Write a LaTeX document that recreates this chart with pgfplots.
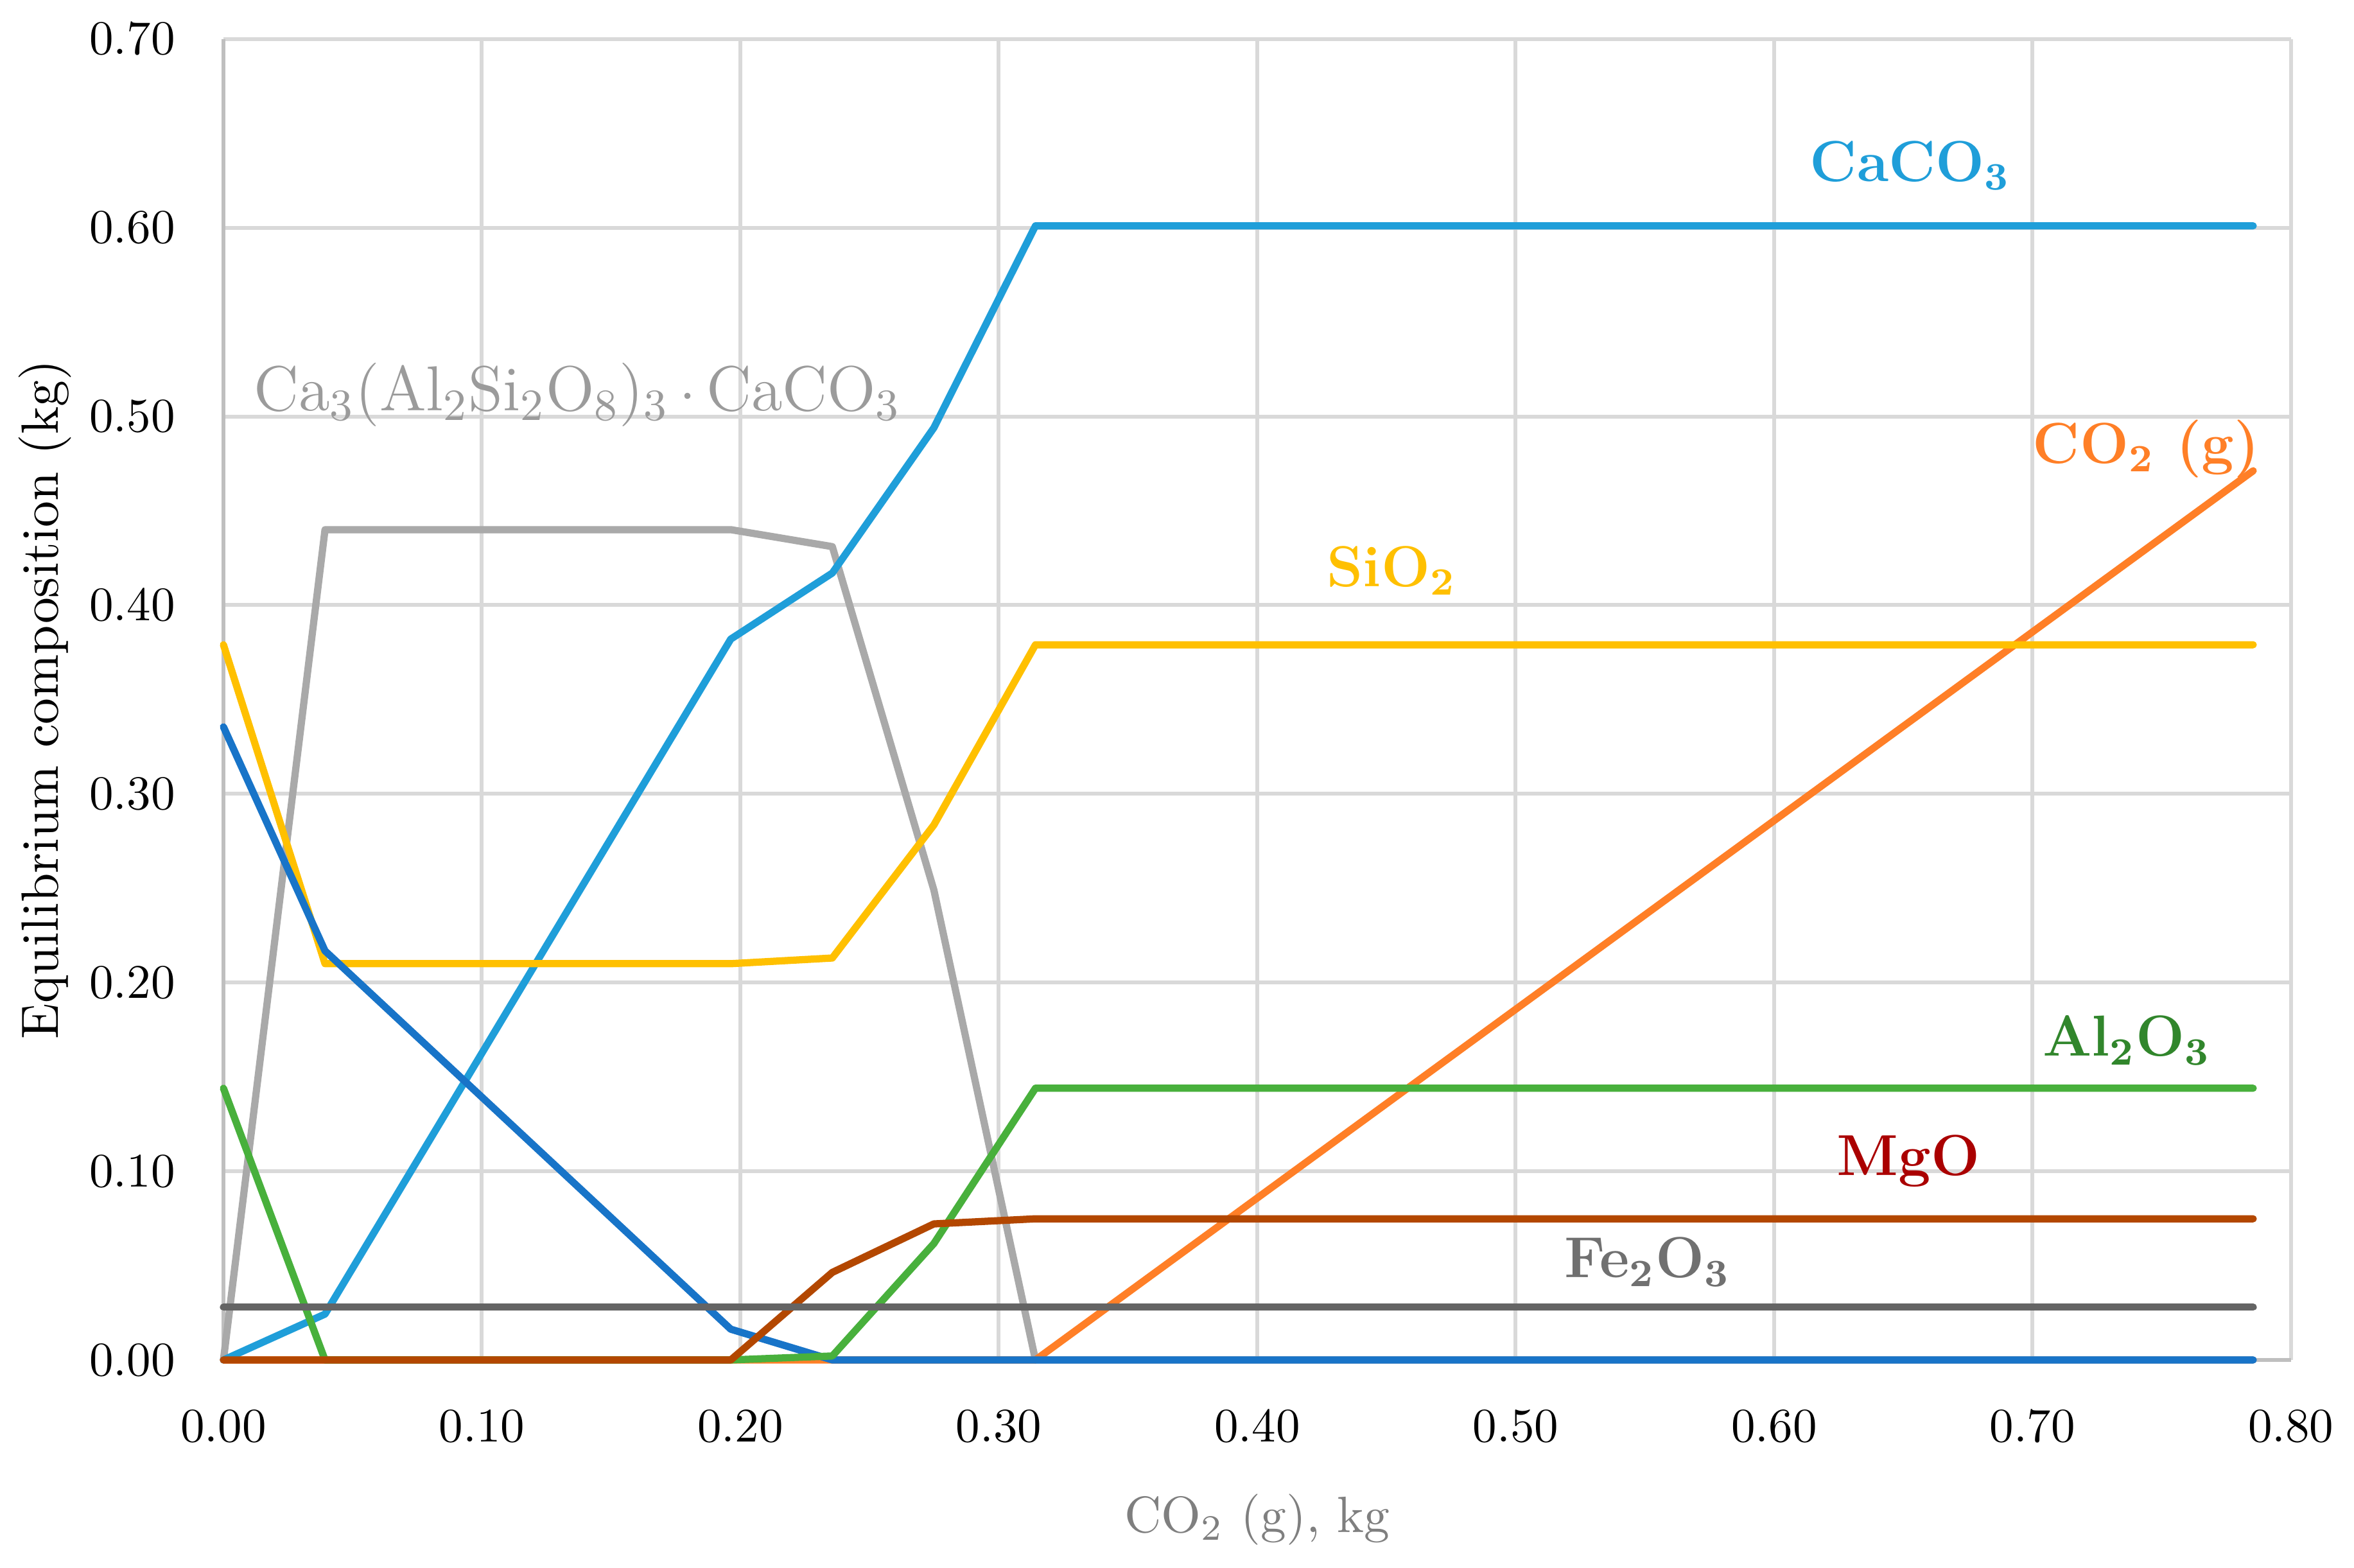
\documentclass[border=0pt]{standalone}
\usepackage{pgfplots}
\pgfplotsset{compat=1.18}
\definecolor{cCaCO}{RGB}{31,158,217}
\definecolor{cDark}{RGB}{24,116,200}
\definecolor{cSi}{RGB}{255,192,0}
\definecolor{cCO}{RGB}{255,127,39}
\definecolor{cAl}{RGB}{72,176,60}
\definecolor{cAlT}{RGB}{49,134,44}
\definecolor{cMg}{RGB}{179,71,0}
\definecolor{cMgT}{RGB}{170,0,0}
\definecolor{cFe}{RGB}{100,100,100}
\definecolor{cFeT}{RGB}{112,112,112}
\definecolor{cCa}{RGB}{169,169,169}
\definecolor{cCaT}{RGB}{155,155,155}
\definecolor{gridc}{RGB}{217,217,217}
\definecolor{axc}{RGB}{191,191,191}
\definecolor{labc}{RGB}{127,127,127}
\begin{document}
\begin{tikzpicture}
\useasboundingbox (-46.4pt,-43.2pt) rectangle (442.4pt,282.4pt);
\begin{axis}[
  at={(0,0)}, anchor=south west,
  width=429.3pt, height=274.3pt, scale only axis,
  xmin=0, xmax=0.8, ymin=0, ymax=0.7,
  xtick={0,0.1,0.2,0.3,0.4,0.5,0.6,0.7,0.8},
  ytick={0,0.1,0.2,0.3,0.4,0.5,0.6,0.7},
  major tick length=0pt,
  grid=major,
  major grid style={draw=gridc, line width=0.8pt},
  axis line style={draw=none},
  clip=false,
  tick label style={font=\fontsize{10}{12}\selectfont, black},
  xticklabel style={yshift=-7pt},
  yticklabel style={xshift=-6.5pt},
  xticklabel={\pgfmathprintnumber[fixed,fixed zerofill,precision=2]{\tick}},
  yticklabel={\pgfmathprintnumber[fixed,fixed zerofill,precision=2]{\tick}},
  xlabel={CO\textsubscript{2} (g), kg},
  ylabel={Equilibrium composition (kg)},
  every axis x label/.style={at={(axis description cs:0.5,0)}, yshift=-33.1pt, anchor=center, font=\fontsize{10.6}{12}\selectfont, text=labc},
  every axis y label/.style={at={(axis description cs:0,0.5)}, xshift=-37.1pt, rotate=90, anchor=center, font=\fontsize{10.9}{12}\selectfont, text=black},
  every axis plot/.append style={line width=1.5pt, line join=round, line cap=round},
]
\draw[axc, line width=0.8pt] (rel axis cs:0,1) -- (rel axis cs:0,0) -- (rel axis cs:1,0);
% Ca3(Al2Si2O8)3.CaCO3
\addplot[cCa] coordinates {(0,0) (0.0393,0.440) (0.1963,0.440) (0.2356,0.431) (0.2749,0.249) (0.3142,0) (0.7854,0)};
% CO2 (g)
\addplot[cCO] coordinates {(0,0) (0.3142,0) (0.7854,0.4712)};
% CaCO3
\addplot[cCaCO] coordinates {(0,0) (0.0393,0.0243) (0.1963,0.382) (0.2356,0.417) (0.2749,0.494) (0.3142,0.601) (0.7854,0.601)};
% SiO2
\addplot[cSi] coordinates {(0,0.379) (0.0393,0.210) (0.1963,0.210) (0.2356,0.213) (0.2749,0.2835) (0.3142,0.379) (0.7854,0.379)};
% unlabelled dark blue
\addplot[cDark] coordinates {(0,0.3355) (0.0393,0.2168) (0.1963,0.0163) (0.2356,0) (0.7854,0)};
% Al2O3
\addplot[cAl] coordinates {(0,0.144) (0.0393,0) (0.1963,0) (0.2356,0.0021) (0.2749,0.0617) (0.3142,0.144) (0.7854,0.144)};
% MgO
\addplot[cMg] coordinates {(0,0) (0.1963,0) (0.2356,0.0464) (0.2749,0.0721) (0.3142,0.0748) (0.7854,0.0748)};
% Fe2O3
\addplot[cFe] coordinates {(0,0.028) (0.7854,0.028)};
\node[anchor=base, text=cCaCO, font=\fontsize{12}{14}\selectfont\bfseries] at (axis cs:0.6527,0.6246) {CaCO\textsubscript{3}};
\node[anchor=base, text=cCO, font=\fontsize{12}{14}\selectfont\bfseries] at (axis cs:0.744,0.4752) {CO\textsubscript{2} (g)};
\node[anchor=base, text=cCaT, font=\fontsize{13.2}{15}\selectfont] at (axis cs:0.137,0.503) {Ca\textsubscript{3}(Al\textsubscript{2}Si\textsubscript{2}O\textsubscript{8})\textsubscript{3}\,$\cdot$\,CaCO\textsubscript{3}};
\node[anchor=base, text=cSi, font=\fontsize{12}{14}\selectfont\bfseries] at (axis cs:0.452,0.410) {SiO\textsubscript{2}};
\node[anchor=base, text=cAlT, font=\fontsize{12}{14}\selectfont\bfseries] at (axis cs:0.7365,0.161) {Al\textsubscript{2}O\textsubscript{3}};
\node[anchor=base, text=cMgT, font=\fontsize{12}{14}\selectfont\bfseries] at (axis cs:0.652,0.0977) {MgO};
\node[anchor=base, text=cFeT, font=\fontsize{12}{14}\selectfont\bfseries] at (axis cs:0.551,0.0437) {Fe\textsubscript{2}O\textsubscript{3}};
\end{axis}
\end{tikzpicture}
\end{document}
